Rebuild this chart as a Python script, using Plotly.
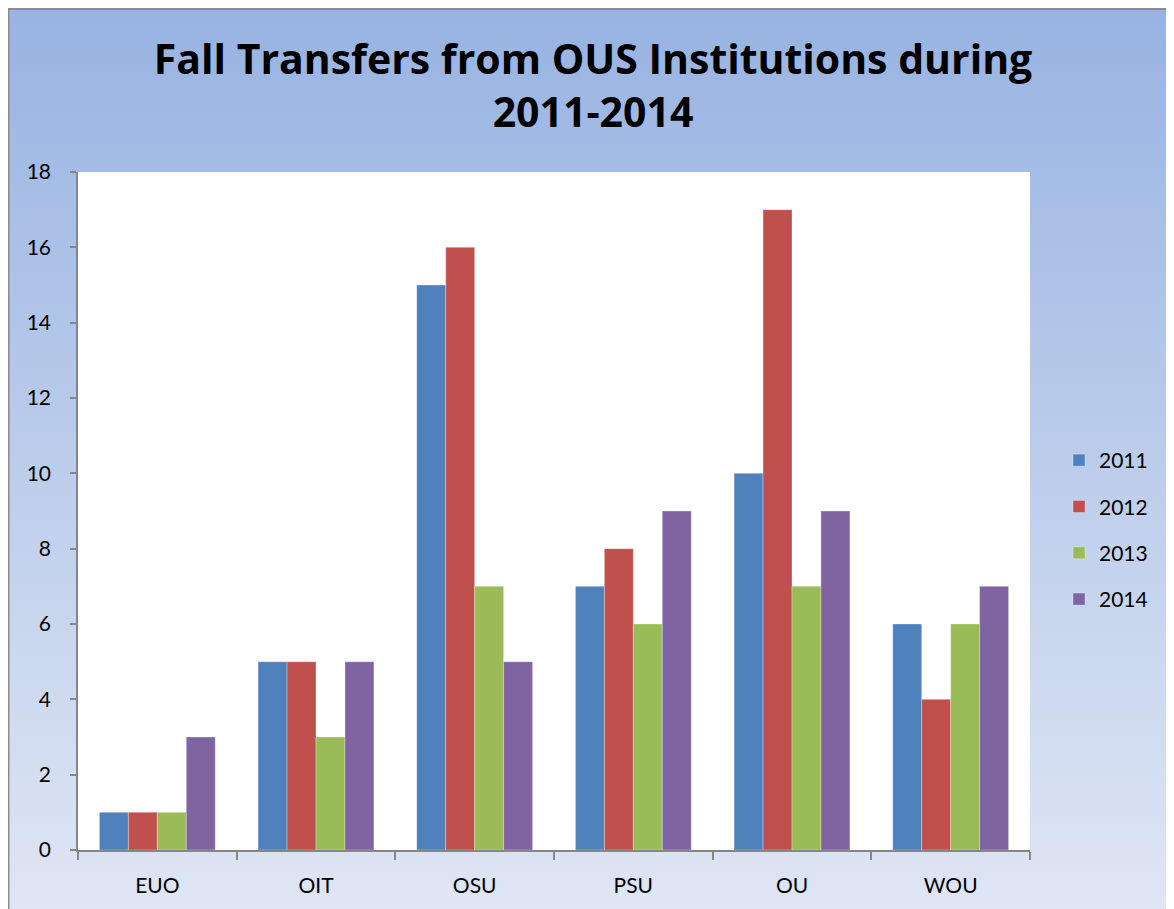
import base64
import plotly.graph_objects as go

categories = ['EUO', 'OIT', 'OSU', 'PSU', 'OU', 'WOU']
years = ['2011', '2012', '2013', '2014']
values_2011 = [1, 5, 15, 7, 10, 6]
values_2012 = [1, 5, 16, 8, 17, 4]
values_2013 = [1, 3, 7, 6, 7, 6]
values_2014 = [3, 5, 5, 9, 9, 7]
colors = ['#4F81BD', '#C0504D', '#9BBB59', '#8064A2']

series = [values_2011, values_2012, values_2013, values_2014]

# page has an 8px body margin, so the figure is a bit smaller than the window
W, H = 1166, 901
L, R, T, B = 70, 144, 164, 59
pw, ph = W - L - R, H - T - B


def px_x(p):
    return (p - L) / pw


def px_y(p):
    return (H - B - p) / ph


# background gradient like the old excel chart area
svg = ('<svg xmlns="http://www.w3.org/2000/svg" width="10" height="100" preserveAspectRatio="none">'
       '<defs><linearGradient id="g" x1="0" y1="0" x2="0" y2="1">'
       '<stop offset="0" stop-color="#98B3E2"/><stop offset="1" stop-color="#DFE6F4"/>'
       '</linearGradient></defs><rect width="10" height="100" fill="url(#g)"/></svg>')
bg_src = 'data:image/svg+xml;base64,' + base64.b64encode(svg.encode()).decode()

traces = []
for i, (yr, vals) in enumerate(zip(years, series)):
    traces.append(go.Bar(
        x=categories,
        y=vals,
        name=yr,
        legendgroup=yr,
        marker=dict(color=colors[i], line=dict(color='rgba(255,255,255,0.5)', width=0.6)),
    ))

fig = go.Figure(traces)

fig.update_layout(
    width=W,
    height=H,
    margin=dict(l=L, r=R, t=T, b=B),
    paper_bgcolor='white',
    plot_bgcolor='white',
    barmode='group',
    bargap=0.27,
    bargroupgap=0,
    font=dict(family='Lato', size=21, color='black'),
    title=dict(
        text='<b>Fall Transfers from OUS Institutions during<br>2011-2014</b>',
        x=585 / W,
        xanchor='center',
        y=1 - 66 / H,
        yanchor='middle',
        font=dict(family='Open Sans', size=41, color='black'),
    ),
    xaxis=dict(
        showline=True,
        linecolor='#868686',
        linewidth=1.5,
        ticks='outside',
        tickson='boundaries',
        ticklen=8,
        tickcolor='#868686',
        tickwidth=1.5,
        showgrid=False,
        tickfont=dict(size=21),
        ticklabelstandoff=16,
    ),
    yaxis=dict(
        range=[0, 18],
        dtick=2,
        showline=True,
        linecolor='#868686',
        linewidth=1.5,
        ticks='outside',
        ticklen=6,
        tickcolor='#868686',
        tickwidth=1.5,
        showgrid=False,
        zeroline=False,
        tickfont=dict(size=21),
        ticklabelstandoff=15,
    ),
    legend=dict(
        x=px_x(1051),
        y=px_y(522),
        xanchor='left',
        yanchor='middle',
        traceorder='grouped',
        tracegroupgap=16,
        bgcolor='rgba(0,0,0,0)',
        font=dict(size=21),
    ),
    images=[dict(
        source=bg_src,
        xref='paper', yref='paper',
        x=px_x(0), y=px_y(0),
        sizex=px_x(W) - px_x(0), sizey=px_y(0) - px_y(H),
        xanchor='left', yanchor='top',
        sizing='stretch',
        layer='below',
    )],
    shapes=[
        dict(type='rect', xref='paper', yref='paper', x0=0, x1=1, y0=0, y1=1,
             fillcolor='white', line=dict(width=0), layer='below'),
        dict(type='rect', xref='paper', yref='paper',
             x0=px_x(0.5), x1=px_x(W + 5), y0=px_y(H + 5), y1=px_y(1),
             fillcolor='rgba(0,0,0,0)', line=dict(color='#8C8C8C', width=2), layer='above'),
    ],
)

fig.write_html('out.html')
